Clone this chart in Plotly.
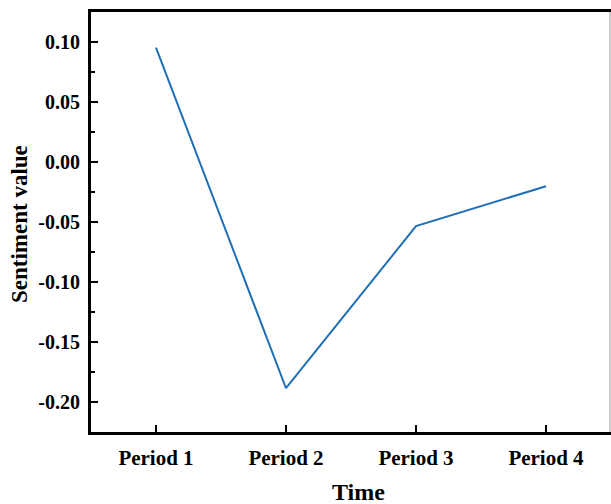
import plotly.graph_objects as go

periods = ["Period 1", "Period 2", "Period 3", "Period 4"]
sentiment = [0.0953, -0.1888, -0.0536, -0.0203]
y_tick_vals = [0.10, 0.05, 0.00, -0.05, -0.10, -0.15, -0.20]
y_tick_text = ["0.10", "0.05", "0.00", "-0.05", "-0.10", "-0.15", "-0.20"]

FONT = "Liberation Serif, Times New Roman, serif"

fig = go.Figure()
fig.add_trace(go.Scatter(
    x=periods, y=sentiment, mode="lines",
    line=dict(color="#1f6fb8", width=2),
    showlegend=False,
))

W, H = 611, 504
L, R, T, B = 91, 0, 12, 72
fig.update_layout(
    width=W, height=H,
    margin=dict(l=L, r=R, t=T, b=B),
    paper_bgcolor="white", plot_bgcolor="white",
    font=dict(family=FONT, color="black"),
)
fig.update_xaxes(
    type="category", range=[-0.5, 3.5], automargin=False,
    showline=True, linecolor="black", linewidth=3, mirror=True,
    ticks="inside", ticklen=7, tickwidth=2, tickcolor="black",
    showgrid=False, zeroline=False,
    tickfont=dict(family=FONT, size=21, weight="bold"),
    ticklabelstandoff=5,
)
fig.update_yaxes(
    range=[-0.2253, 0.125], automargin=False,
    tickvals=y_tick_vals, ticktext=y_tick_text,
    showline=True, linecolor="black", linewidth=3,
    ticks="inside", ticklen=7, tickwidth=2, tickcolor="black",
    minor=dict(ticks="inside", ticklen=4, tickwidth=2, tickcolor="black", dtick=0.025, tick0=0),
    showgrid=False, zeroline=False,
    tickfont=dict(family=FONT, size=20, weight="bold"),
    ticklabelstandoff=4,
)
fig.add_shape(type="line", xref="paper", yref="paper", x0=0.998, x1=0.998, y0=0, y1=1,
              line=dict(color="#999999", width=1))

pw = W - L - R
ph = H - T - B
fig.add_annotation(text="Time", xref="paper", yref="paper",
                   x=(358 - L) / pw, y=-(492 - (H - B)) / ph,
                   showarrow=False, xanchor="center", yanchor="middle",
                   font=dict(family=FONT, size=24, weight="bold"))
fig.add_annotation(text="Sentiment value", xref="paper", yref="paper",
                   x=-(L - 19) / pw, y=1 - (224 - T) / ph, textangle=-90,
                   showarrow=False, xanchor="center", yanchor="middle",
                   font=dict(family=FONT, size=23, weight="bold"))

fig.write_html("out.html", config={"displayModeBar": False},
               post_script="document.body.style.margin='0';document.body.style.overflow='hidden';")
